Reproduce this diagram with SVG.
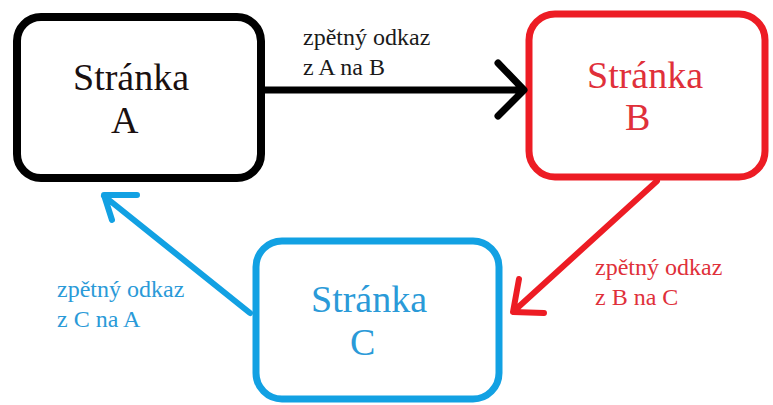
<svg xmlns="http://www.w3.org/2000/svg" width="773" height="405" viewBox="0 0 773 405">
<style>
.box{fill:#fff;}
text{font-family:'Liberation Serif','Times New Roman',serif;}
.big{font-size:38px;}
.lbl{font-size:24px;}
.con{fill:none;stroke-linecap:round;stroke-linejoin:round;}
</style>
<rect width="773" height="405" fill="#fff"/>
<g id="nodeA">
<rect class="box" x="17" y="17" width="244" height="161" rx="24" stroke="#000" stroke-width="8"/>
<text class="big" x="73" y="90" fill="#1a1010">Stránka</text>
<text class="big" x="111" y="133" fill="#1a1010">A</text>
</g>
<g id="nodeB">
<rect class="box" x="529" y="14" width="236" height="163" rx="26" stroke="#ed1c24" stroke-width="7"/>
<text class="big" x="587" y="88" fill="#e0303a">Stránka</text>
<text class="big" x="625" y="130" fill="#e0303a">B</text>
</g>
<g id="nodeC">
<rect class="box" x="256" y="241" width="243" height="158" rx="26" stroke="#12a1e3" stroke-width="7"/>
<text class="big" x="311" y="312" fill="#2a9ad8">Stránka</text>
<text class="big" x="350" y="355" fill="#2a9ad8">C</text>
</g>
<g id="connectors">
<path class="con" d="M265 90 H523 M498 63 L524 90 L498 116" stroke="#000" stroke-width="7"/>
<path class="con" d="M657 181 L514 311 M519 279 L513 312 L544 313" stroke="#ed1c24" stroke-width="6"/>
<path class="con" d="M250 313 L104 196 M137 195 L104 195 L112 220" stroke="#12a1e3" stroke-width="6"/>
<text class="lbl" x="303" y="45" fill="#1a1a1a">zpětný odkaz</text>
<text class="lbl" x="303" y="75" fill="#1a1a1a">z A na B</text>
<text class="lbl" x="595" y="275" fill="#e0303a">zpětný odkaz</text>
<text class="lbl" x="595" y="305" fill="#e0303a">z B na C</text>
<text class="lbl" x="57" y="297" fill="#2a9ad8">zpětný odkaz</text>
<text class="lbl" x="57" y="327" fill="#2a9ad8">z C na A</text>
</g>
</svg>
